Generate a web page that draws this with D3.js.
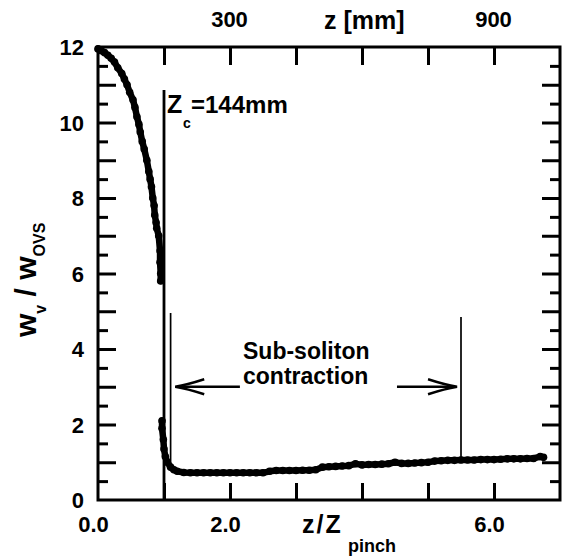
<!DOCTYPE html>
<html><head><meta charset="utf-8">
<script src="https://cdn.jsdelivr.net/npm/d3@7"></script>
<style>html,body{margin:0;padding:0;background:#fff;} svg{display:block;} text{font-family:"Liberation Sans",Arial,sans-serif;font-weight:bold;fill:#000;}</style>
</head><body>
<script>
// ---- data (z/Zpinch, w_v/w_OVS) ----
const zDecay = [0.00,0.05,0.10,0.15,0.20,0.25,0.30,0.36,0.40,0.44,0.48,0.53,0.56,0.59,0.62,0.64,0.67,0.70,0.74,0.77,0.79,0.81,0.83,0.85,0.86,0.88,0.89,0.92,0.94,0.94,0.95,0.95];
const wDecay = [11.95,11.9,11.85,11.78,11.7,11.6,11.45,11.3,11.15,11.0,10.8,10.6,10.4,10.15,9.95,9.75,9.5,9.3,9.0,8.7,8.5,8.3,8.0,7.8,7.55,7.35,7.2,7.0,6.6,6.3,6.0,5.8];
const zFlat = [0.97,0.97,0.99,1.00,1.02,1.05,1.10,1.15,1.20,1.30,1.40,1.50,1.60,1.70,1.80,1.90,2.00,2.10,2.20,2.30,2.40,2.50,2.60,2.70,2.80,2.90,3.00,3.10,3.20,3.30,3.40,3.50,3.60,3.70,3.80,3.90,4.00,4.10,4.20,4.30,4.40,4.50,4.60,4.70,4.80,4.90,5.00,5.10,5.20,5.30,5.40,5.50,5.60,5.70,5.80,5.90,6.00,6.10,6.20,6.30,6.40,6.50,6.60,6.70,6.75];
const wFlat = [2.1,1.9,1.6,1.35,1.15,1.0,0.87,0.8,0.76,0.73,0.72,0.72,0.72,0.72,0.72,0.72,0.72,0.72,0.72,0.72,0.72,0.72,0.76,0.78,0.78,0.78,0.78,0.79,0.79,0.80,0.87,0.88,0.89,0.90,0.91,0.96,0.93,0.94,0.94,0.95,0.96,1.0,0.97,0.97,0.98,0.99,1.0,1.03,1.04,1.05,1.05,1.06,1.06,1.06,1.07,1.07,1.07,1.08,1.09,1.09,1.09,1.10,1.10,1.15,1.13];
const xTicks = [1,2,3,4,5,6];
const xLabels = [0,2,6];
const topLabels = [300,900];
const yMajor = [1,2,3,4,5,6,7,8,9,10,11];
const yMinor = [0.5,1.5,2.5,3.5,4.5,5.5,6.5,7.5,8.5,9.5,10.5,11.5];
const yLabels = [0,2,4,6,8,10,12];
const zcLine = 1.0, zLeftMark = 1.1, zRightMark = 5.5;

const W = 563, H = 556;
const svg = d3.select("body").append("svg").attr("width", W).attr("height", H);
const x = d3.scaleLinear().domain([0,7]).range([98,560]);
const y = d3.scaleLinear().domain([0,12]).range([500,47]);
const xTop = d3.scaleLinear().domain([0,1050]).range([98,560]);

function clean(g){ g.select(".domain").remove(); g.attr("font-family",null).attr("font-size",null); g.selectAll(".tick line").attr("stroke","#000").attr("stroke-width",3); }

// ticks
svg.append("g").attr("transform","translate(0,500)").call(d3.axisBottom(x).tickValues(xTicks).tickSizeInner(-17).tickFormat("")).call(clean);
svg.append("g").attr("transform","translate(0,47)").call(d3.axisTop(x).tickValues(xTicks).tickSizeInner(-18).tickFormat("")).call(clean);
svg.append("g").attr("transform","translate(98,0)").call(d3.axisLeft(y).tickValues(yMajor).tickSizeInner(-18).tickFormat("")).call(clean);
svg.append("g").attr("transform","translate(98,0)").call(d3.axisLeft(y).tickValues(yMinor).tickSizeInner(-10).tickFormat("")).call(clean);
svg.append("g").attr("transform","translate(560,0)").call(d3.axisRight(y).tickValues(yMajor).tickSizeInner(-18).tickFormat("")).call(clean);
svg.append("g").attr("transform","translate(560,0)").call(d3.axisRight(y).tickValues(yMinor).tickSizeInner(-10).tickFormat("")).call(clean);

// labels
const gl = svg.append("g").attr("transform","translate(98,0)").call(d3.axisLeft(y).tickValues(yLabels).tickSize(0).tickFormat(d3.format("d"))).call(clean);
gl.selectAll("text").attr("x",-14).attr("dy","0.36em").style("font-size","22px");
const gb = svg.append("g").attr("transform","translate(0,500)").call(d3.axisBottom(x).tickValues(xLabels).tickSize(0).tickFormat(d3.format(".1f"))).call(clean);
gb.selectAll("text").attr("x",-5).attr("y",32).attr("dy",0).style("font-size","22px");
const gt = svg.append("g").attr("transform","translate(0,47)").call(d3.axisTop(xTop).tickValues(topLabels).tickSize(0).tickFormat(d3.format("d"))).call(clean);
gt.selectAll("text").attr("x",-1).attr("y",-20).attr("dy",0).style("font-size","22px");

// axis titles
svg.append("text").attr("x",324).attr("y",29).style("font-size","25px").text("z [mm]");
svg.append("text").attr("x",302).attr("y",533).style("font-size","25px").style("letter-spacing","2px").text("z/Z");
svg.append("text").attr("x",348).attr("y",552).style("font-size","18px").text("pinch");
const yt = svg.append("text").attr("transform","translate(36,337) rotate(-90)").style("font-size","30px");
yt.append("tspan").text("w");
yt.append("tspan").attr("dy",10).style("font-size","16px").text("v");
yt.append("tspan").attr("dy",-10).text(" / w");
yt.append("tspan").attr("dy",9).style("font-size","16px").text("OVS");

// frame
svg.append("rect").attr("x",x(0)).attr("y",y(12)).attr("width",x(7)-x(0)).attr("height",y(0)-y(12)).attr("fill","none").attr("stroke","#000").attr("stroke-width",3);

// data
const line = d3.line().x(d=>x(d[0])).y(d=>y(d[1]));
[[zDecay,wDecay],[zFlat,wFlat]].forEach(([zs,ws])=>{
  const pts = zs.map((z,i)=>[z,ws[i]]);
  svg.append("path").datum(pts).attr("d",line).attr("fill","none").attr("stroke","#000").attr("stroke-width",6.5).attr("stroke-linejoin","round").attr("stroke-linecap","round");
  svg.append("g").selectAll("circle").data(pts).join("circle").attr("cx",d=>x(d[0])).attr("cy",d=>y(d[1])).attr("r",3.8).attr("fill","#000");
});

// annotation lines
svg.append("line").attr("x1",x(zcLine)).attr("x2",x(zcLine)).attr("y1",90).attr("y2",y(0)).attr("stroke","#000").attr("stroke-width",2.8);
svg.append("line").attr("x1",x(zLeftMark)).attr("x2",x(zLeftMark)).attr("y1",313).attr("y2",y(0.95)).attr("stroke","#000").attr("stroke-width",1.7);
svg.append("line").attr("x1",x(zRightMark)).attr("x2",x(zRightMark)).attr("y1",317).attr("y2",y(1.06)).attr("stroke","#000").attr("stroke-width",1.7);

// arrows
function arrow(x0,x1,yy){
  const dir = Math.sign(x0-x1); // head at x1
  svg.append("line").attr("x1",x0).attr("x2",x1+dir*2).attr("y1",yy).attr("y2",yy).attr("stroke","#000").attr("stroke-width",2.6);
  svg.append("path").attr("d",`M${x1+dir*29},${yy-7.5} Q${x1+dir*12},${yy-2} ${x1},${yy} Q${x1+dir*12},${yy+2} ${x1+dir*29},${yy+7.5}`).attr("fill","none").attr("stroke","#000").attr("stroke-width",2.4);
}
arrow(x(2.15), x(1.17), y(3.0));
arrow(x(4.53), x(5.44), y(3.0));

// text annotations
svg.append("text").attr("x",167).attr("y",113).style("font-size","25px").text("Z");
svg.append("text").attr("x",183).attr("y",128).style("font-size","14px").text("c");
svg.append("text").attr("x",191).attr("y",113).style("font-size","24px").text("=144mm");
svg.append("text").attr("x",243).attr("y",359).style("font-size","23px").text("Sub-soliton");
svg.append("text").attr("x",243).attr("y",384).style("font-size","23px").text("contraction");
</script>
</body></html>
